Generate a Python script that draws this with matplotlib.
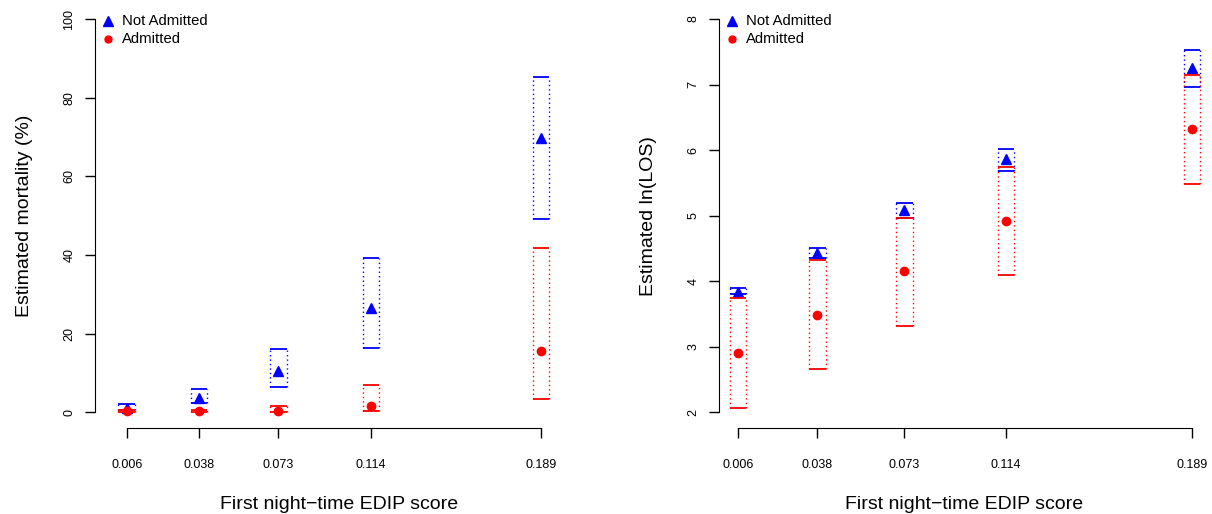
import numpy as np
import matplotlib.pyplot as plt

plt.rcParams['font.family'] = ['Liberation Sans', 'DejaVu Sans']

# EDIP score groups (x positions are the real values)
edip = [0.006, 0.038, 0.073, 0.114, 0.189]
edip_labels = ['0.006', '0.038', '0.073', '0.114', '0.189']

# mortality (%) : estimate, lower, upper
mort_na = [1.2, 3.7, 10.6, 26.5, 69.8]
mort_na_lo = [0.5, 2.3, 6.3, 16.3, 49.2]
mort_na_hi = [2.0, 5.8, 16.2, 39.2, 85.2]
mort_ad = [0.2, 0.2, 0.3, 1.6, 15.6]
mort_ad_lo = [0.0, 0.0, 0.0, 0.2, 3.5]
mort_ad_hi = [0.6, 0.6, 1.5, 7.0, 41.8]

# ln(LOS) : estimate, lower, upper
los_na = [3.84, 4.43, 5.09, 5.86, 7.26]
los_na_lo = [3.80, 4.36, 4.97, 5.68, 6.97]
los_na_hi = [3.89, 4.51, 5.20, 6.01, 7.52]
los_ad = [2.90, 3.49, 4.15, 4.92, 6.32]
los_ad_lo = [2.06, 2.66, 3.32, 4.09, 5.48]
los_ad_hi = [3.74, 4.32, 4.96, 5.74, 7.15]

W, H = 1212, 514
fig = plt.figure(figsize=(W / 100, H / 100), dpi=100)


def add_ax(left, right, top, bottom):
    return fig.add_axes([left / W, 1 - bottom / H, (right - left) / W, (bottom - top) / H])


def ci_box(ax, x, est, lo, hi, color, marker, ms, hw):
    x = np.asarray(x)
    ax.hlines(lo, x - hw, x + hw, color=color, lw=1.3)
    ax.hlines(hi, x - hw, x + hw, color=color, lw=1.3)
    ax.vlines(x - hw, lo, hi, color=color, lw=1, linestyles=(0, (1, 2.2)))
    ax.vlines(x + hw, lo, hi, color=color, lw=1, linestyles=(0, (1, 2.2)))
    ax.plot(x, est, ls='none', marker=marker, ms=ms, color=color, mec=color)


def style(ax, yticks, ylabel):
    for s in ['top', 'right']:
        ax.spines[s].set_visible(False)
    ax.spines['left'].set_bounds(yticks[0], yticks[-1])
    ax.spines['bottom'].set_bounds(edip[0], edip[-1])
    ax.set_xticks(edip)
    ax.set_xticklabels(edip_labels)
    ax.set_yticks(yticks)
    ax.set_yticklabels([str(t) for t in yticks], rotation=90, va='center')
    ax.tick_params(axis='both', length=7, width=1, labelsize=9, direction='out')
    ax.tick_params(axis='x', pad=15)
    ax.tick_params(axis='y', pad=7)
    ax.set_xlabel('First night\u2212time EDIP score', fontsize=14, labelpad=18)
    ax.set_ylabel(ylabel, fontsize=14, labelpad=22)


def legend(ax, xm, xt):
    ax.plot(xm, 0.958, marker='^', ms=7, color='#0000FF', transform=ax.transAxes, clip_on=False)
    ax.plot(xm, 0.916, marker='o', ms=5, color='#FF0000', transform=ax.transAxes, clip_on=False)
    ax.text(xt, 0.958, 'Not Admitted', fontsize=10.7, va='center', transform=ax.transAxes)
    ax.text(xt, 0.916, 'Admitted', fontsize=10.7, va='center', transform=ax.transAxes)


# left panel: mortality
ax1 = add_ax(95, 584, 3.3, 428)
ax1.set_xlim(-0.008, 0.208)
ax1.set_ylim(-4, 104)
hw1 = 0.216 * 8.3 / 489
ci_box(ax1, edip, mort_na, mort_na_lo, mort_na_hi, '#0000FF', '^', 7, hw1)
ci_box(ax1, edip, mort_ad, mort_ad_lo, mort_ad_hi, '#FF0000', 'o', 6, hw1)
style(ax1, [0, 20, 40, 60, 80, 100], 'Estimated mortality (%)')
legend(ax1, 13 / 489, 27 / 489)

# right panel: ln(LOS)
ax2 = add_ax(719, 1210, 3.3, 428)
ax2.set_xlim(-0.00166, 0.19626)
ax2.set_ylim(1.76, 8.24)
hw2 = (0.19626 + 0.00166) * 8.3 / 491
ci_box(ax2, edip, los_na, los_na_lo, los_na_hi, '#0000FF', '^', 7, hw2)
ci_box(ax2, edip, los_ad, los_ad_lo, los_ad_hi, '#FF0000', 'o', 6, hw2)
style(ax2, [2, 3, 4, 5, 6, 7, 8], 'Estimated ln(LOS)')
legend(ax2, 13 / 491, 27 / 491)

fig.savefig('out.png', dpi=100)
